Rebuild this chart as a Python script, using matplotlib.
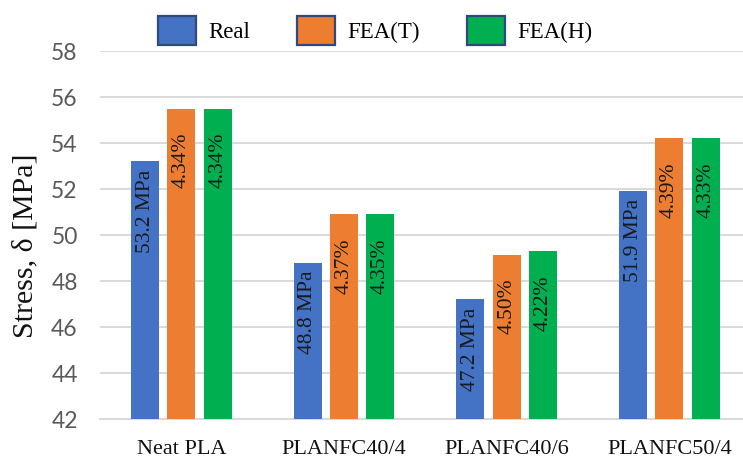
import matplotlib
matplotlib.use("Agg")
import matplotlib.pyplot as plt
from matplotlib.patches import Patch
import numpy as np

# Data
categories = ["Neat PLA", "PLANFC40/4", "PLANFC40/6", "PLANFC50/4"]
series_names = ["Real", "FEA(T)", "FEA(H)"]
real = [53.2, 48.8, 47.2, 51.9]
fea_t = [55.5, 50.9, 49.15, 54.2]
fea_h = [55.5, 50.9, 49.3, 54.2]
err_t = ["4.34%", "4.37%", "4.50%", "4.39%"]
err_h = ["4.34%", "4.35%", "4.22%", "4.33%"]
y_ticks = [42, 44, 46, 48, 50, 52, 54, 56, 58]

colors = ["#4472C4", "#ED7D31", "#00B050"]
serif = ["Liberation Serif", "DejaVu Serif"]
tick_font = ["Lato", "DejaVu Sans"]

W, H = 743, 459
fig = plt.figure(figsize=(W / 100, H / 100), dpi=100)
ax_left, ax_right = 100, 743
ax_top, ax_bottom = 51, 419
ax = fig.add_axes([ax_left / W, 1 - ax_bottom / H,
                   (ax_right - ax_left) / W, (ax_bottom - ax_top) / H])

x = np.arange(len(categories))
cat_px = 162.7
bar_w = 28 / cat_px
step = 36.3 / cat_px

bars_real = ax.bar(x - step, real, bar_w, color=colors[0], zorder=3)
bars_t = ax.bar(x, fea_t, bar_w, color=colors[1], zorder=3)
bars_h = ax.bar(x + step, fea_h, bar_w, color=colors[2], zorder=3)

ax.set_ylim(42, 58)
ax.set_xlim(-0.5, -0.5 + (ax_right - ax_left) / cat_px)
ax.set_yticks(y_ticks)
ax.set_xticks(x)
ax.set_xticklabels(categories, fontfamily=serif, fontsize=16, color="#111111")
for lbl in ax.get_yticklabels():
    lbl.set_fontfamily(tick_font)
    lbl.set_fontsize(16.5)
    lbl.set_color("#595959")
ax.tick_params(axis="y", length=0, pad=16)
ax.tick_params(axis="x", length=0, pad=15)

ax.grid(axis="y", color="#D9D9D9", linewidth=1.4, zorder=0)
for side in ["left", "right", "top"]:
    ax.spines[side].set_visible(False)
ax.spines["bottom"].set_color("#D9D9D9")
ax.spines["bottom"].set_linewidth(1.4)

# Value labels inside the bars
for b, v in zip(bars_real, real):
    ax.annotate(f"{v:.1f} MPa", (b.get_x() + b.get_width() / 2, b.get_height()),
                xytext=(0, -8), textcoords="offset pixels", rotation=90,
                ha="center", va="top", fontfamily=serif, fontsize=15.5,
                color="#1a1a1a", zorder=4)
for bars, labels in [(bars_t, err_t), (bars_h, err_h)]:
    for b, t in zip(bars, labels):
        ax.annotate(t, (b.get_x() + b.get_width() / 2, b.get_height()),
                    xytext=(0, -24), textcoords="offset pixels", rotation=90,
                    ha="center", va="top", fontfamily=serif, fontsize=15.5,
                    color="#1a1a1a", zorder=4)

# Legend
handles = [Patch(facecolor=c, edgecolor="#2F4A7A", linewidth=1.6) for c in colors]
fig.legend(handles, series_names, loc="upper left",
           bbox_to_anchor=(158 / W, 1 - 16 / H), ncol=3, frameon=False,
           prop={"family": serif, "size": 16.5}, handlelength=1.65,
           handleheight=1.55, handletextpad=0.55, columnspacing=2.05,
           borderpad=0, borderaxespad=0)

fig.text(25 / W, 1 - 246 / H, "Stress, δ [MPa]", rotation=90, ha="center",
         va="center", fontfamily=serif, fontsize=21.5, color="#111111")

fig.savefig("out.png", dpi=100)
